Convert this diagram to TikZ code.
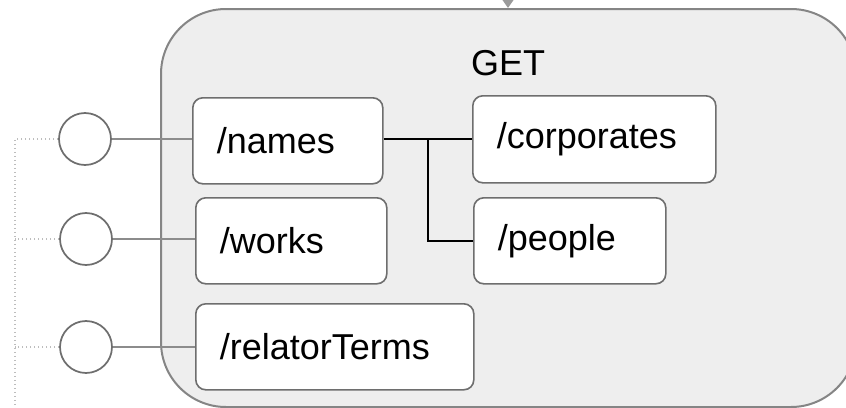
\documentclass[tikz,border=0pt]{standalone}
\usepackage{fontspec}
\setmainfont{Liberation Sans}
\usetikzlibrary{arrows.meta}
\definecolor{bigfill}{HTML}{EEEEEE}
\definecolor{bigedge}{HTML}{858585}
\definecolor{boxedge}{HTML}{6E6E6E}
\definecolor{linkgray}{HTML}{8C8C8C}
\definecolor{dotgray}{HTML}{BDBDBD}
\definecolor{arrowgray}{HTML}{9A9A9A}
\begin{document}
\begin{tikzpicture}[x=0.75pt,y=-0.75pt,
  every node/.style={font=\fontsize{27}{32}\selectfont},
  bigbox/.style={draw=bigedge, fill=bigfill, line width=1.5pt, rounded corners=48.75pt, inner sep=0pt, anchor=north west, minimum width=521.25pt, minimum height=298.5pt},
  ep/.style={draw=boxedge, fill=white, line width=1.2pt, rounded corners=7.5pt, anchor=north west, inner xsep=18pt, inner ysep=0pt, minimum height=64.5pt, align=left},
  port/.style={circle, draw=boxedge, fill=white, line width=1.3pt, minimum size=39pt, inner sep=0pt},
  link/.style={draw=linkgray, line width=1.5pt},
  tree/.style={draw=black, line width=1.4pt},
  dotline/.style={draw=dotgray, line width=1pt, dotted},
]
\useasboundingbox (0,0) rectangle (846,407);
\clip (0,0) rectangle (846,407);

\node[bigbox] (api) at (160,8) {};
\node (getlbl) at (508,63) {GET};

\node[ep, text width=106.5pt, minimum height=64.5pt] (names) at (192,97) {/names};
\node[ep, text width=107.25pt] (works) at (195,197) {/works};
\node[ep, text width=172.5pt] (relator) at (195,303) {/relatorTerms};
\node[ep, text width=146.25pt, minimum height=65.25pt] (corp) at (472,95) {/corporates};
\node[ep, text width=108pt] (people) at (473,197) {/people};

\node[port] (c1) at (85,139) {};
\node[port] (c2) at (86,239) {};
\node[port] (c3) at (86,347) {};

\draw[link] (c1.east) -- (c1.east -| names.west);
\draw[link, line width=2.2pt] (c2.east) -- (c2.east -| works.west);
\draw[link] (c3.east) -- (c3.east -| relator.west);

\coordinate (j) at (428,139);
\draw[tree] (names.east |- j) -- (j -| corp.west);
\draw[tree] (j) |- (people.west);

\coordinate (d0) at (15,139);
\coordinate (dend) at (15,412);
\draw[dotline] (c1.west) -- (c1.west -| d0) -- (dend);
\draw[dotline] (c2.west) -- (c2.west -| d0);
\draw[dotline] (c3.west) -- (c3.west -| d0);

\coordinate (topin) at (508,-30);
\draw[draw=arrowgray, line width=1.2pt, -{Triangle[width=8pt,length=6pt]}] (topin) -- (api.north -| topin);
\end{tikzpicture}
\end{document}
